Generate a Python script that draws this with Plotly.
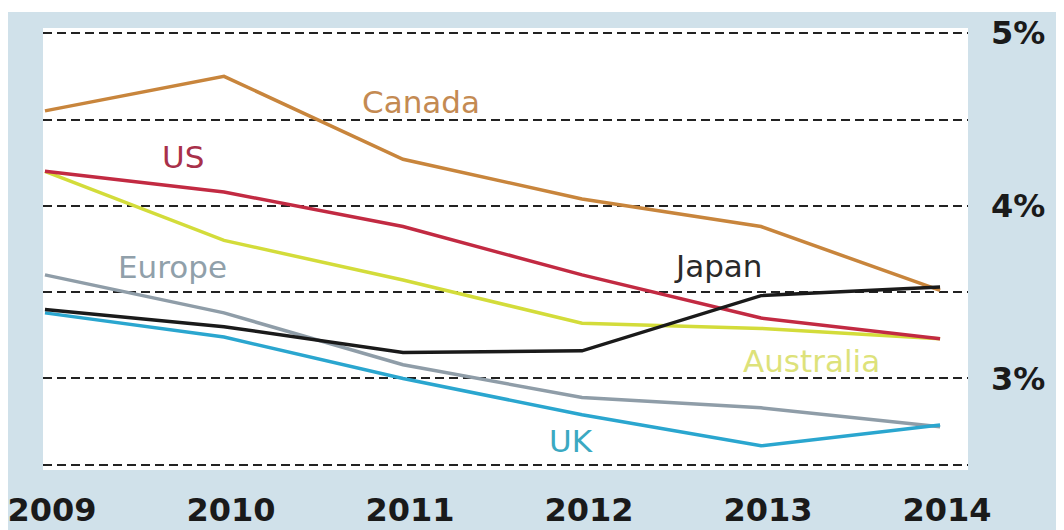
import plotly.graph_objects as go

years = [2009, 2010, 2011, 2012, 2013, 2014]
canada = [4.55, 4.75, 4.27, 4.04, 3.88, 3.51]
us = [4.20, 4.08, 3.88, 3.60, 3.35, 3.23]
australia = [4.20, 3.80, 3.57, 3.32, 3.29, 3.23]
europe = [3.60, 3.38, 3.08, 2.89, 2.83, 2.72]
japan = [3.40, 3.30, 3.15, 3.16, 3.48, 3.53]
uk = [3.38, 3.24, 3.00, 2.79, 2.61, 2.73]

y_tickvals = [2.5, 3.0, 3.5, 4.0, 4.5, 5.0]
y_ticktext = ["", "3%", "", "4%", "", "5%"]
x_ticktext = ["2009", "2010", "2011", "2012", "2013", "2014"]

series = [
    ("Australia", australia, "#d3dc3a"),
    ("Europe", europe, "#8f9da8"),
    ("UK", uk, "#2aa6cf"),
    ("US", us, "#c22a42"),
    ("Canada", canada, "#c8853c"),
    ("Japan", japan, "#1a1a1a"),
]

fig = go.Figure()
for name, vals, color in series:
    fig.add_trace(go.Scatter(x=years, y=vals, mode="lines", name=name,
                             line=dict(color=color, width=3.5), showlegend=False))

labels = [
    ("Canada", 2011.10, 4.60, "#c48a52"),
    ("US", 2009.77, 4.28, "#a8304a"),
    ("Europe", 2009.71, 3.645, "#90a0aa"),
    ("Japan", 2012.76, 3.65, "#2a2a2a"),
    ("Australia", 2013.28, 3.10, "#dde27a"),
    ("UK", 2011.94, 2.64, "#3ba9c2"),
]
for text, x, y, color in labels:
    fig.add_annotation(x=x, y=y, text=text, showarrow=False, xanchor="center", yanchor="middle",
                       font=dict(family="DejaVu Sans", size=31, color=color))

fig.add_shape(type="rect", xref="paper", yref="paper", x0=-0.1, x1=1.2, y0=1.036, y1=1.1,
              fillcolor="white", line=dict(width=0), layer="below")

fig.update_layout(
    width=1056, height=522,
    margin=dict(l=35, r=96, t=20, b=60),
    paper_bgcolor="#d0e1ea",
    plot_bgcolor="white",
    xaxis=dict(range=[2008.989, 2014.156], tickvals=years, ticktext=x_ticktext,
               showgrid=False, zeroline=False, showline=False, ticks="", automargin=False,
               ticklabelstandoff=18, ticklabelshift=7, ticklabeloverflow="allow",
               tickfont=dict(family="DejaVu Sans", size=32, color="#1a1a1a", weight="bold")),
    yaxis=dict(range=[2.47, 5.03], side="right", tickvals=y_tickvals, ticktext=y_ticktext,
               showgrid=True, gridcolor="#222222", gridwidth=2, griddash="9px,5px",
               zeroline=False, showline=False, ticks="", ticklabelstandoff=22, automargin=False,
               ticklabeloverflow="allow",
               tickfont=dict(family="DejaVu Sans", size=32, color="#1a1a1a", weight="bold")),
)

fig.write_html("out.html")
